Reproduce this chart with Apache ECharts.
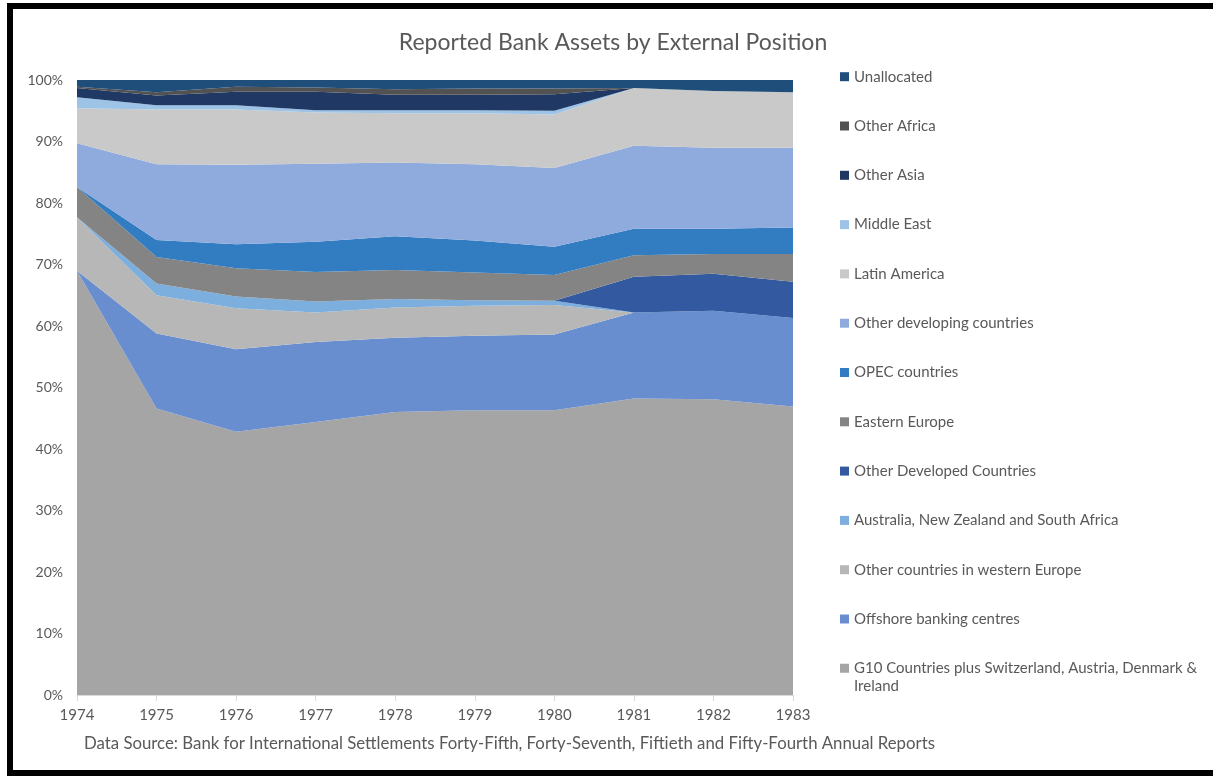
<!DOCTYPE html>
<html>
<head>
<meta charset="utf-8">
<title>Reported Bank Assets by External Position</title>
<script src="https://cdn.jsdelivr.net/npm/echarts@6/dist/echarts.min.js"></script>
<style>
  html, body { margin: 0; padding: 0; background: #ffffff; }
  #chart { width: 1213px; height: 779px; }
</style>
</head>
<body>
<div id="chart"></div>
<script>
// Years on the horizontal axis
const years = ['1974', '1975', '1976', '1977', '1978', '1979', '1980', '1981', '1982', '1983'];

// Share of reported bank assets by external position, percent of total (bottom to top of the stack)
const g10 = [69.0, 46.6, 42.8, 44.4, 46.0, 46.3, 46.3, 48.2, 48.1, 46.9];
const offshore = [0.0, 12.2, 13.4, 13.0, 12.1, 12.1, 12.3, 14.0, 14.4, 14.4];
const westernEurope = [8.7, 6.2, 6.7, 4.8, 4.9, 4.9, 4.8, 0.0, 0.0, 0.0];
const anzSouthAfrica = [0.0, 1.9, 1.9, 1.8, 1.4, 0.9, 0.7, 0.0, 0.0, 0.0];
const otherDeveloped = [0.0, 0.0, 0.0, 0.0, 0.0, 0.0, 0.0, 5.8, 6.0, 5.9];
const easternEurope = [4.9, 4.3, 4.6, 4.8, 4.7, 4.5, 4.2, 3.5, 3.2, 4.5];
const opec = [0.0, 2.8, 3.9, 4.9, 5.5, 5.2, 4.6, 4.3, 4.1, 4.3];
const otherDeveloping = [7.1, 12.3, 12.9, 12.7, 12.0, 12.4, 12.8, 13.5, 13.2, 13.0];
const latinAmerica = [5.7, 8.9, 9.0, 8.3, 8.0, 8.3, 8.7, 9.4, 9.2, 9.0];
const middleEast = [1.8, 0.7, 0.7, 0.4, 0.5, 0.5, 0.6, 0.0, 0.0, 0.0];
const otherAsia = [1.5, 1.6, 2.2, 3.0, 2.5, 2.5, 2.7, 0.0, 0.0, 0.0];
const otherAfrica = [0.2, 0.5, 0.8, 0.7, 0.9, 1.0, 0.9, 0.0, 0.0, 0.0];
const unallocated = [1.1, 2.0, 1.1, 1.2, 1.5, 1.4, 1.4, 1.3, 1.8, 2.0];

// Y-axis ticks
const yTicks = { min: 0, max: 100, step: 10 };

const G10_NAME = 'G10 Countries plus Switzerland, Austria, Denmark & Ireland';
const G10_LABEL = 'G10 Countries plus Switzerland, Austria, Denmark &\nIreland';

// Stack order, bottom first
const layers = [
  { name: G10_NAME, data: g10, color: '#A5A5A5' },
  { name: 'Offshore banking centres', data: offshore, color: '#698ED0' },
  { name: 'Other countries in western Europe', data: westernEurope, color: '#B7B7B7' },
  { name: 'Australia, New Zealand and South Africa', data: anzSouthAfrica, color: '#7CAFDD' },
  { name: 'Other Developed Countries', data: otherDeveloped, color: '#335AA1' },
  { name: 'Eastern Europe', data: easternEurope, color: '#848484' },
  { name: 'OPEC countries', data: opec, color: '#327DC2' },
  { name: 'Other developing countries', data: otherDeveloping, color: '#8FAADC' },
  { name: 'Latin America', data: latinAmerica, color: '#C9C9C9' },
  { name: 'Middle East', data: middleEast, color: '#9DC3E6' },
  { name: 'Other Asia', data: otherAsia, color: '#203864' },
  { name: 'Other Africa', data: otherAfrica, color: '#525252' },
  { name: 'Unallocated', data: unallocated, color: '#204E7A' }
];

const FONT = 'Lato, "Open Sans", sans-serif';
const TEXT_GREY = '#595959';

const chart = echarts.init(document.getElementById('chart'), null, { renderer: 'canvas' });

// Legend entries listed top-down; the two-line G10 entry gets its own legend block
const legendNames = layers.slice().reverse().map(function (l) { return l.name; });
const singleLineNames = legendNames.filter(function (n) { return n !== G10_NAME; });

const legendText = { fontFamily: FONT, fontSize: 15, color: TEXT_GREY, lineHeight: 18 };

const option = {
  backgroundColor: '#ffffff',
  animation: false,
  title: {
    text: 'Reported Bank Assets by External Position',
    left: 613,
    top: 31,
    padding: 0,
    textAlign: 'center',
    textStyle: { fontFamily: FONT, fontSize: 23, fontWeight: 'normal', color: TEXT_GREY }
  },
  grid: { left: 77, right: 420, top: 80, bottom: 84, containLabel: false },
  legend: [
    {
      orient: 'vertical',
      left: 840,
      top: 67.7,
      padding: 0,
      itemWidth: 9,
      itemHeight: 9,
      itemGap: 31.3,
      icon: 'rect',
      selectedMode: false,
      data: singleLineNames,
      textStyle: legendText
    },
    {
      // swatch box is three squares tall with the filled square at its top,
      // so the swatch lines up with the first text line
      orient: 'vertical',
      left: 840,
      top: 659.3,
      padding: 0,
      itemWidth: 9,
      itemHeight: 27,
      icon: 'path://M0,0L9,0L9,9L0,9Z M0,27L9,27',
      selectedMode: false,
      data: [G10_NAME],
      formatter: function () { return G10_LABEL; },
      textStyle: legendText
    }
  ],
  xAxis: {
    type: 'category',
    data: years,
    boundaryGap: false,
    axisLine: { show: true, lineStyle: { color: '#D9D9D9', width: 1 } },
    axisTick: { show: true, length: 6, lineStyle: { color: '#D9D9D9' } },
    axisLabel: { color: TEXT_GREY, fontFamily: FONT, fontSize: 15, margin: 13 },
    splitLine: { show: false }
  },
  yAxis: {
    type: 'value',
    min: yTicks.min,
    max: yTicks.max,
    interval: yTicks.step,
    axisLine: { show: false },
    axisTick: { show: false },
    splitLine: { show: false },
    axisLabel: { color: TEXT_GREY, fontFamily: FONT, fontSize: 14, margin: 14, formatter: '{value}%' }
  },
  series: layers.map(function (l) {
    return {
      name: l.name,
      type: 'line',
      stack: 'share',
      data: l.data,
      symbol: 'none',
      showSymbol: false,
      color: l.color,
      lineStyle: { width: 0, color: l.color },
      areaStyle: { color: l.color, opacity: 1 },
      emphasis: { disabled: true }
    };
  }),
  graphic: [
    {
      type: 'text',
      left: 84,
      top: 735,
      style: {
        text: 'Data Source: Bank for International Settlements Forty-Fifth, Forty-Seventh, Fiftieth and Fifty-Fourth Annual Reports',
        fill: TEXT_GREY,
        font: '16.8px ' + FONT
      }
    },
    // frame around the chart
    { type: 'rect', shape: { x: 7, y: 3, width: 6, height: 773 }, style: { fill: '#000000' } },
    { type: 'rect', shape: { x: 7, y: 3, width: 1206, height: 6 }, style: { fill: '#000000' } },
    { type: 'rect', shape: { x: 7, y: 770, width: 1206, height: 6 }, style: { fill: '#000000' } }
  ]
};

chart.setOption(option);
</script>
</body>
</html>
